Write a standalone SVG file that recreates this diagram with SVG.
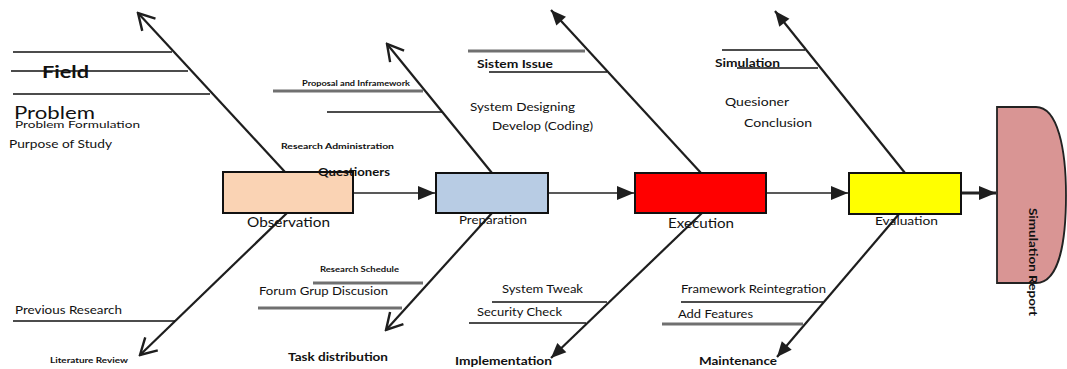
<svg xmlns="http://www.w3.org/2000/svg" width="1067" height="369" viewBox="0 0 1067 369">
<style>
.bone{stroke:#1e1e1e;stroke-width:2.2;fill:none}
.rib{stroke:#111;stroke-width:1.6}
.ribg{stroke:#707070;stroke-width:3}
.flow{stroke:#222;stroke-width:1.6}
.box{stroke:#111;stroke-width:2}
text{font-family:Lato,"Liberation Sans",sans-serif;fill:#111}
.b{font-weight:bold}
</style>
<defs>
<marker id="open" viewBox="-18 -11 20 22" refX="0" refY="0" markerWidth="20" markerHeight="22" markerUnits="userSpaceOnUse" orient="auto">
<path d="M-16,-9 L0,0 L-16,9" fill="none" stroke="#1e1e1e" stroke-width="2.4"/>
</marker>
<marker id="solid" viewBox="-16 -8 17 16" refX="0" refY="0" markerWidth="17" markerHeight="16" markerUnits="userSpaceOnUse" orient="auto">
<path d="M-15,-6.5 L0,0 L-15,6.5 Z" fill="#1e1e1e"/>
</marker>
<marker id="flowHead" viewBox="-17 -8 18 16" refX="0" refY="0" markerWidth="18" markerHeight="16" markerUnits="userSpaceOnUse" orient="auto">
<path d="M-17,-7 L0,0 L-17,7 Z" fill="#1e1e1e"/>
</marker>
</defs>
<rect width="1067" height="369" fill="#fff"/>

<g id="connectors">
<line class="flow" x1="353" y1="193" x2="435" y2="193" marker-end="url(#flowHead)"/>
<line class="flow" x1="548" y1="193" x2="634" y2="193" marker-end="url(#flowHead)"/>
<line class="flow" x1="766" y1="193" x2="848" y2="193" marker-end="url(#flowHead)"/>
<line x1="961" y1="193" x2="996" y2="193" stroke="#222" stroke-width="3" marker-end="url(#flowHead)"/>
<line class="bone" x1="285" y1="172" x2="138" y2="13" marker-end="url(#open)"/>
<line class="bone" x1="492" y1="173" x2="387" y2="44" marker-end="url(#open)"/>
<line class="bone" x1="701" y1="173" x2="551" y2="10" marker-end="url(#solid)"/>
<line class="bone" x1="905" y1="173" x2="775" y2="11" marker-end="url(#solid)"/>
<line class="bone" x1="287" y1="213" x2="140" y2="355" marker-end="url(#open)"/>
<line class="bone" x1="492" y1="213" x2="386" y2="330" marker-end="url(#open)"/>
<line class="bone" x1="702" y1="213" x2="551" y2="358" marker-end="url(#solid)"/>
<line class="bone" x1="899" y1="214" x2="777" y2="357" marker-end="url(#solid)"/>
<line class="rib" x1="13" y1="52" x2="172" y2="52"/>
<line class="rib" x1="11" y1="71" x2="188" y2="71"/>
<line class="rib" x1="13" y1="94" x2="210" y2="94"/>
<line class="ribg" x1="273" y1="91" x2="423" y2="91"/>
<line class="rib" x1="327" y1="112" x2="442" y2="112"/>
<line class="ribg" x1="468" y1="51" x2="585" y2="51"/>
<line class="rib" x1="489" y1="72" x2="607" y2="72"/>
<line class="rib" x1="722" y1="50" x2="805" y2="50"/>
<line class="rib" x1="737" y1="68" x2="818" y2="68"/>
<line class="rib" x1="13" y1="321" x2="175" y2="321"/>
<line class="ribg" x1="313" y1="283" x2="423" y2="283"/>
<line class="ribg" x1="258" y1="308" x2="402" y2="308"/>
<line class="rib" x1="492" y1="302" x2="607" y2="302"/>
<line class="rib" x1="469" y1="323" x2="586" y2="323"/>
<line class="rib" x1="681" y1="302" x2="823" y2="302"/>
<line class="ribg" x1="662" y1="324" x2="803" y2="324"/>
</g>

<g id="observation">
<rect class="box" x="223" y="172" width="130" height="41" fill="#FAD3B4"/>
<text x="247" y="227" font-size="14" textLength="83" lengthAdjust="spacingAndGlyphs">Observation</text>
</g>
<g id="preparation">
<rect class="box" x="436" y="173" width="112" height="40" fill="#B8CCE4"/>
<text x="459" y="224" font-size="11" textLength="68" lengthAdjust="spacingAndGlyphs">Preparation</text>
</g>
<g id="execution">
<rect class="box" x="635" y="173" width="131" height="40" fill="#FF0000"/>
<text x="668" y="228" font-size="14" textLength="66" lengthAdjust="spacingAndGlyphs">Execution</text>
</g>
<g id="evaluation">
<rect class="box" x="849" y="173" width="112" height="41" fill="#FFFF00"/>
<text x="875" y="225" font-size="11" textLength="63" lengthAdjust="spacingAndGlyphs">Evaluation</text>
</g>
<g id="simulation-report">
<path d="M997,107 H1036 C1058,107 1066,150 1066,195 C1066,245 1058,283 1036,283 H997 Z" fill="#D99594" stroke="#222" stroke-width="1.8"/>
<text transform="translate(1029,208) rotate(90)" font-size="11" class="b" textLength="108" lengthAdjust="spacingAndGlyphs">Simulation Report</text>
</g>

<g id="labels">
<text x="15" y="128" font-size="10" textLength="125" lengthAdjust="spacingAndGlyphs">Problem Formulation</text>
<rect x="10" y="100" width="140" height="21" fill="#fff"/>
<text x="14" y="119" font-size="17" textLength="81" lengthAdjust="spacingAndGlyphs">Problem</text>
<text x="42" y="78" font-size="17" class="b" textLength="47" lengthAdjust="spacingAndGlyphs">Field</text>
<text x="9" y="148" font-size="11" textLength="103" lengthAdjust="spacingAndGlyphs">Purpose of Study</text>
<text x="302" y="86" font-size="8" class="b" textLength="108" lengthAdjust="spacingAndGlyphs">Proposal and Inframework</text>
<text x="281" y="149" font-size="8" class="b" textLength="113" lengthAdjust="spacingAndGlyphs">Research Administration</text>
<text x="318" y="176" font-size="12" class="b" textLength="72" lengthAdjust="spacingAndGlyphs">Questioners</text>
<text x="477" y="68" font-size="11" class="b" textLength="76" lengthAdjust="spacingAndGlyphs">Sistem Issue</text>
<text x="470" y="111" font-size="11" textLength="105" lengthAdjust="spacingAndGlyphs">System Designing</text>
<text x="492" y="130" font-size="11" textLength="101" lengthAdjust="spacingAndGlyphs">Develop (Coding)</text>
<text x="715" y="67" font-size="11" class="b" textLength="65" lengthAdjust="spacingAndGlyphs">Simulation</text>
<text x="725" y="106" font-size="11" textLength="64" lengthAdjust="spacingAndGlyphs">Quesioner</text>
<text x="744" y="127" font-size="11" textLength="68" lengthAdjust="spacingAndGlyphs">Conclusion</text>
<text x="15" y="314" font-size="11" textLength="107" lengthAdjust="spacingAndGlyphs">Previous Research</text>
<text x="50" y="363" font-size="7" class="b" textLength="78" lengthAdjust="spacingAndGlyphs">Literature Review</text>
<text x="320" y="272" font-size="7" class="b" textLength="79" lengthAdjust="spacingAndGlyphs">Research Schedule</text>
<text x="259" y="295" font-size="11" textLength="129" lengthAdjust="spacingAndGlyphs">Forum Grup Discusion</text>
<text x="288" y="361" font-size="11" class="b" textLength="100" lengthAdjust="spacingAndGlyphs">Task distribution</text>
<text x="502" y="293" font-size="11" textLength="81" lengthAdjust="spacingAndGlyphs">System Tweak</text>
<text x="477" y="316" font-size="11" textLength="85" lengthAdjust="spacingAndGlyphs">Security Check</text>
<text x="455" y="365" font-size="11" class="b" textLength="97" lengthAdjust="spacingAndGlyphs">Implementation</text>
<text x="681" y="293" font-size="11" textLength="145" lengthAdjust="spacingAndGlyphs">Framework Reintegration</text>
<text x="678" y="318" font-size="11" textLength="75" lengthAdjust="spacingAndGlyphs">Add Features</text>
<text x="699" y="365" font-size="11" class="b" textLength="78" lengthAdjust="spacingAndGlyphs">Maintenance</text>
</g>
</svg>
